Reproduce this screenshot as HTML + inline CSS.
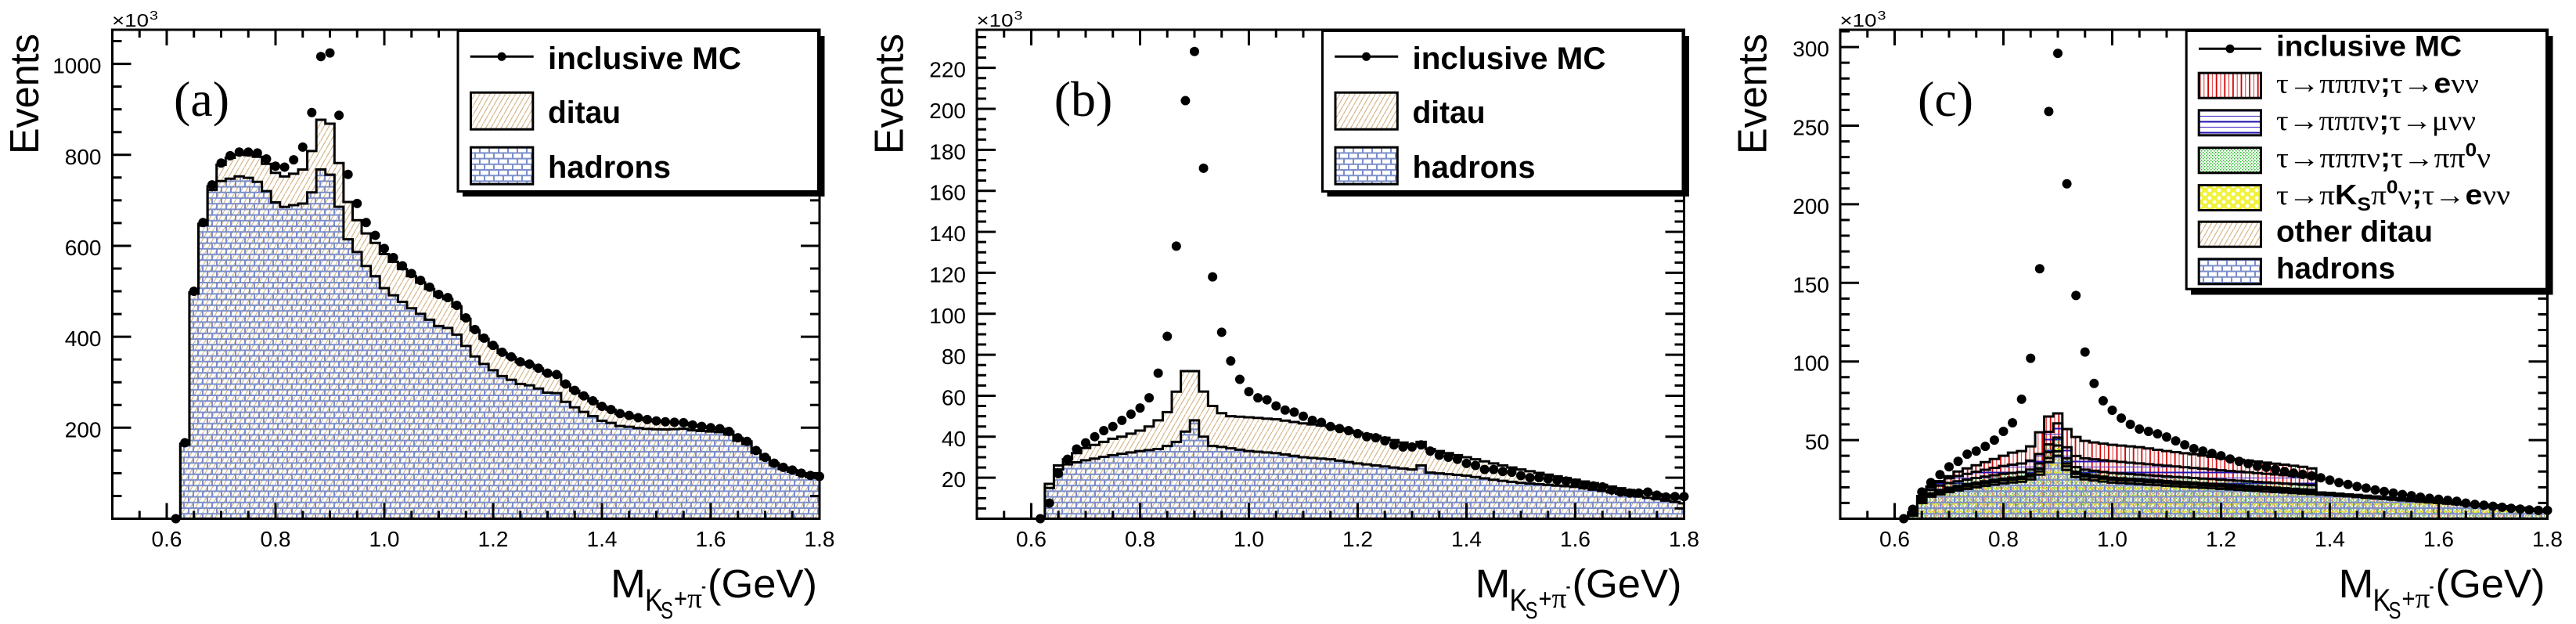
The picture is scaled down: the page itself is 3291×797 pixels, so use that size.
<!DOCTYPE html>
<html><head><meta charset="utf-8">
<style>
html,body{margin:0;padding:0;background:#fff;}
svg{display:block;}
text{font-family:"Liberation Sans",Arial,sans-serif;fill:#000;}
.tl{font-size:28px;}
.ser{font-family:"Liberation Serif","DejaVu Serif",serif;}
.b{font-weight:bold;}
</style></head><body>
<svg id="s" width="3291" height="797" viewBox="0 0 3291 797" xmlns="http://www.w3.org/2000/svg">
<defs>
<pattern id="hatch" patternUnits="userSpaceOnUse" width="6.5" height="11.26">
<path d="M-0.65,12.39 L7.15,-1.13" stroke="#d2b080" stroke-width="1.1" fill="none"/>
</pattern>
<pattern id="brick" patternUnits="userSpaceOnUse" width="24" height="14.4">
<path d="M0,1H24M0,8.2H24M1,1V8.2M13,1V8.2M7,8.2V14.4M19,8.2V14.4M7,0V1M19,0V1" stroke="#7b8ec9" stroke-width="2" fill="none"/>
</pattern>
<pattern id="red" patternUnits="userSpaceOnUse" width="10.6" height="10">
<path d="M1.5,0V10" stroke="#d40000" stroke-width="1.8"/><path d="M6.8,0V10" stroke="#e03030" stroke-width="1"/>
</pattern>
<pattern id="blu" patternUnits="userSpaceOnUse" width="10" height="14">
<path d="M0,1.5H10" stroke="#2010b0" stroke-width="2"/><path d="M0,8.5H10" stroke="#5a40d0" stroke-width="1.2"/>
</pattern>
<pattern id="grn" patternUnits="userSpaceOnUse" width="4" height="4">
<rect x="0" y="0" width="1.5" height="1.5" fill="#22bb22"/><rect x="2" y="2" width="1.5" height="1.5" fill="#22bb22"/>
</pattern>
<pattern id="yel" patternUnits="userSpaceOnUse" width="12" height="10">
<rect width="12" height="10" fill="#f2f23a"/><circle cx="3" cy="3" r="2.4" fill="#fff"/><circle cx="9" cy="8" r="2.4" fill="#fff"/>
</pattern>
<pattern id="yel2" patternUnits="userSpaceOnUse" width="12" height="10">
<path d="M0,5 q3,-4 6,0 q3,-4 6,0" stroke="#e8e820" stroke-width="1.5" fill="none"/>
</pattern>
<clipPath id="cA"><rect x="143.5" y="38" width="903.5" height="624.5"/></clipPath>
<clipPath id="cB"><rect x="1248" y="38" width="903.5" height="624.5"/></clipPath>
<clipPath id="cC"><rect x="2351" y="38" width="903.5" height="624.5"/></clipPath>
</defs>
<rect width="3291" height="797" fill="#fff"/>
<g id="gA" clip-path="url(#cA)"></g>
<g id="gB" clip-path="url(#cB)"></g>
<g id="gC" clip-path="url(#cC)"></g>
<g id="dots"></g>
<g id="ax"></g>

<g class="tl" text-anchor="end">
<text x="129.5" y="558.3">200</text><text x="129.5" y="442.1">400</text><text x="129.5" y="325.9">600</text><text x="129.5" y="209.8">800</text><text x="129.5" y="93.6">1000</text>
<text x="1234" y="622.2">20</text><text x="1234" y="569.8">40</text><text x="1234" y="517.5">60</text><text x="1234" y="465.1">80</text><text x="1234" y="412.8">100</text><text x="1234" y="360.4">120</text><text x="1234" y="308.1">140</text><text x="1234" y="255.7">160</text><text x="1234" y="203.4">180</text><text x="1234" y="151">200</text><text x="1234" y="98.7">220</text>
<text x="2337" y="574.1">50</text><text x="2337" y="473.7">100</text><text x="2337" y="373.3">150</text><text x="2337" y="272.9">200</text><text x="2337" y="172.5">250</text><text x="2337" y="72.1">300</text>
</g>
<g class="tl" text-anchor="middle">
<text x="213" y="698">0.6</text><text x="352" y="698">0.8</text><text x="491" y="698">1.0</text><text x="630" y="698">1.2</text><text x="769" y="698">1.4</text><text x="908" y="698">1.6</text><text x="1047" y="698">1.8</text>
<text x="1317.5" y="698">0.6</text><text x="1456.5" y="698">0.8</text><text x="1595.5" y="698">1.0</text><text x="1734.5" y="698">1.2</text><text x="1873.5" y="698">1.4</text><text x="2012.5" y="698">1.6</text><text x="2151.5" y="698">1.8</text>
<text x="2420.5" y="698">0.6</text><text x="2559.5" y="698">0.8</text><text x="2698.5" y="698">1.0</text><text x="2837.5" y="698">1.2</text><text x="2976.5" y="698">1.4</text><text x="3115.5" y="698">1.6</text><text x="3254.5" y="698">1.8</text>
</g>

<text x="143" y="34" font-size="23" textLength="47" lengthAdjust="spacingAndGlyphs">×10</text><text x="191" y="25" font-size="16" textLength="11" lengthAdjust="spacingAndGlyphs">3</text>
<text x="1247.5" y="34" font-size="23" textLength="47" lengthAdjust="spacingAndGlyphs">×10</text><text x="1295.5" y="25" font-size="16" textLength="11" lengthAdjust="spacingAndGlyphs">3</text>
<text x="2350.5" y="34" font-size="23" textLength="47" lengthAdjust="spacingAndGlyphs">×10</text><text x="2398.5" y="25" font-size="16" textLength="11" lengthAdjust="spacingAndGlyphs">3</text>

<text transform="translate(49,197) rotate(-90)" font-size="52" textLength="154" lengthAdjust="spacingAndGlyphs">Events</text>
<text transform="translate(1153.5,197) rotate(-90)" font-size="52" textLength="154" lengthAdjust="spacingAndGlyphs">Events</text>
<text transform="translate(2256.5,197) rotate(-90)" font-size="52" textLength="154" lengthAdjust="spacingAndGlyphs">Events</text>

<text class="ser" x="222" y="148" font-size="64">(a)</text>
<text class="ser" x="1346.7" y="148" font-size="64">(b)</text>
<text class="ser" x="2450" y="148" font-size="64">(c)</text>

<g>
<text x="780" y="763" font-size="51" textLength="45" lengthAdjust="spacingAndGlyphs">M</text>
<text x="824" y="780" font-size="40" textLength="23" lengthAdjust="spacingAndGlyphs">K</text>
<text x="844" y="790" font-size="31" textLength="16" lengthAdjust="spacingAndGlyphs">S</text>
<text x="861" y="776" font-size="34" textLength="17" lengthAdjust="spacingAndGlyphs">+</text>
<text class="ser" x="878" y="776" font-size="36" textLength="19" lengthAdjust="spacingAndGlyphs">π</text>
<text x="896" y="758" font-size="30" textLength="6" lengthAdjust="spacingAndGlyphs">-</text>
<text x="904" y="763" font-size="51" textLength="140" lengthAdjust="spacingAndGlyphs">(GeV)</text>
</g>
<g>
<text x="1884.5" y="763" font-size="51" textLength="45" lengthAdjust="spacingAndGlyphs">M</text>
<text x="1928.5" y="780" font-size="40" textLength="23" lengthAdjust="spacingAndGlyphs">K</text>
<text x="1948.5" y="790" font-size="31" textLength="16" lengthAdjust="spacingAndGlyphs">S</text>
<text x="1965.5" y="776" font-size="34" textLength="17" lengthAdjust="spacingAndGlyphs">+</text>
<text class="ser" x="1982.5" y="776" font-size="36" textLength="19" lengthAdjust="spacingAndGlyphs">π</text>
<text x="2000.5" y="758" font-size="30" textLength="6" lengthAdjust="spacingAndGlyphs">-</text>
<text x="2008.5" y="763" font-size="51" textLength="140" lengthAdjust="spacingAndGlyphs">(GeV)</text>
</g>
<g>
<text x="2987.5" y="763" font-size="51" textLength="45" lengthAdjust="spacingAndGlyphs">M</text>
<text x="3031.5" y="780" font-size="40" textLength="23" lengthAdjust="spacingAndGlyphs">K</text>
<text x="3051.5" y="790" font-size="31" textLength="16" lengthAdjust="spacingAndGlyphs">S</text>
<text x="3068.5" y="776" font-size="34" textLength="17" lengthAdjust="spacingAndGlyphs">+</text>
<text class="ser" x="3085.5" y="776" font-size="36" textLength="19" lengthAdjust="spacingAndGlyphs">π</text>
<text x="3103.5" y="758" font-size="30" textLength="6" lengthAdjust="spacingAndGlyphs">-</text>
<text x="3111.5" y="763" font-size="51" textLength="140" lengthAdjust="spacingAndGlyphs">(GeV)</text>
</g>

<g>
<rect x="591" y="46" width="462.5" height="205" fill="#000"/>
<rect x="585" y="39.5" width="460.5" height="205" fill="#fff" stroke="#000" stroke-width="3"/>
<path d="M600.7,72.3H681.7" stroke="#000" stroke-width="3"/><circle cx="641" cy="72.3" r="5.5" fill="#000"/>
<rect x="601.5" y="118.2" width="79.3" height="47" fill="url(#hatch)" stroke="#000" stroke-width="3"/>
<rect x="601.5" y="188.2" width="79.3" height="47" fill="url(#brick)" stroke="#000" stroke-width="3"/>
<text class="b" x="700" y="88" font-size="40" textLength="247" lengthAdjust="spacingAndGlyphs">inclusive MC</text>
<text class="b" x="700" y="157" font-size="40" textLength="93" lengthAdjust="spacingAndGlyphs">ditau</text>
<text class="b" x="700" y="227" font-size="40" textLength="157" lengthAdjust="spacingAndGlyphs">hadrons</text>
</g>
<g>
<rect x="1695.5" y="46" width="462.5" height="205" fill="#000"/>
<rect x="1689.5" y="39.5" width="460.5" height="205" fill="#fff" stroke="#000" stroke-width="3"/>
<path d="M1705.2,72.3H1786.2" stroke="#000" stroke-width="3"/><circle cx="1745.5" cy="72.3" r="5.5" fill="#000"/>
<rect x="1706" y="118.2" width="79.3" height="47" fill="url(#hatch)" stroke="#000" stroke-width="3"/>
<rect x="1706" y="188.2" width="79.3" height="47" fill="url(#brick)" stroke="#000" stroke-width="3"/>
<text class="b" x="1804.5" y="88" font-size="40" textLength="247" lengthAdjust="spacingAndGlyphs">inclusive MC</text>
<text class="b" x="1804.5" y="157" font-size="40" textLength="93" lengthAdjust="spacingAndGlyphs">ditau</text>
<text class="b" x="1804.5" y="227" font-size="40" textLength="157" lengthAdjust="spacingAndGlyphs">hadrons</text>
</g>
<g>
<rect x="2799" y="46" width="462.5" height="330.5" fill="#000"/>
<rect x="2793.2" y="39.5" width="460.3" height="329.7" fill="#fff" stroke="#000" stroke-width="3"/>
<path d="M2809,62.3H2889" stroke="#000" stroke-width="3"/><circle cx="2849" cy="62.3" r="5.5" fill="#000"/>
<rect x="2809.2" y="93.2" width="79.3" height="32" fill="url(#red)" stroke="#000" stroke-width="3"/>
<rect x="2809.2" y="140.8" width="79.3" height="32" fill="url(#blu)" stroke="#000" stroke-width="3"/>
<rect x="2809.2" y="188.8" width="79.3" height="32" fill="url(#grn)" stroke="#000" stroke-width="3"/>
<rect x="2809.2" y="236.5" width="79.3" height="32" fill="url(#yel)" stroke="#000" stroke-width="3"/>
<rect x="2809.2" y="283.2" width="79.3" height="32" fill="url(#hatch)" stroke="#000" stroke-width="3"/>
<rect x="2809.2" y="330.8" width="79.3" height="32" fill="url(#brick)" stroke="#000" stroke-width="3"/>
<text class="b" x="2908" y="71.7" font-size="37" textLength="237" lengthAdjust="spacingAndGlyphs">inclusive MC</text>
<text x="2908" y="118.5" font-size="36" textLength="259" lengthAdjust="spacingAndGlyphs"><tspan class="ser">τ→πππν</tspan><tspan class="b">;</tspan><tspan class="ser">τ→</tspan><tspan class="b">e</tspan><tspan class="ser">νν</tspan></text>
<text x="2908" y="166" font-size="36" textLength="255" lengthAdjust="spacingAndGlyphs"><tspan class="ser">τ→πππν</tspan><tspan class="b">;</tspan><tspan class="ser">τ→μνν</tspan></text>
<text x="2908" y="213.5" font-size="36" textLength="274" lengthAdjust="spacingAndGlyphs"><tspan class="ser">τ→πππν</tspan><tspan class="b">;</tspan><tspan class="ser">τ→ππ</tspan><tspan class="b" font-size="24" dy="-14">0</tspan><tspan class="ser" dy="14">ν</tspan></text>
<text x="2908" y="261" font-size="36" textLength="299" lengthAdjust="spacingAndGlyphs"><tspan class="ser">τ→π</tspan><tspan class="b">K</tspan><tspan class="b" font-size="24" dy="8">S</tspan><tspan class="ser" dy="-8">π</tspan><tspan class="b" font-size="24" dy="-14">0</tspan><tspan class="ser" dy="14">ν</tspan><tspan class="b">;</tspan><tspan class="ser">τ→</tspan><tspan class="b">e</tspan><tspan class="ser">νν</tspan></text>
<text class="b" x="2908" y="308.5" font-size="38" textLength="200" lengthAdjust="spacingAndGlyphs">other ditau</text>
<text class="b" x="2908" y="355.5" font-size="38" textLength="152" lengthAdjust="spacingAndGlyphs">hadrons</text>
</g>
</svg>

<script>
(function(){
const NS='http://www.w3.org/2000/svg';
function mk(tag,attrs,parent){const e=document.createElementNS(NS,tag);for(const k in attrs)e.setAttribute(k,attrs[k]);parent.appendChild(e);return e;}
const YB=662.5, YT=38;
const P=[{x0:143.5,x1:1047,ymax:1075,g:'gA'},{x0:1248,x1:2151.5,ymax:238.6,g:'gB'},{x0:2351,x1:3254.5,ymax:311,g:'gC'}];
function X(p,v){if(v>1.8)v=1.8;return p.x0+(v-0.5)/1.3*(p.x1-p.x0);}
function Y(p,val){return YB-val/p.ymax*(YB-YT);}
function cen(j){return 0.5+j/60;}
function interp(pts,v){
 if(v<=pts[0][0])return pts[0][1];
 if(v>=pts[pts.length-1][0])return pts[pts.length-1][1];
 for(let i=1;i<pts.length;i++){if(v<=pts[i][0]){const a=pts[i-1],b=pts[i];return a[1]+(b[1]-a[1])*(v-a[0])/(b[0]-a[0]);}}
 return pts[pts.length-1][1];
}
function dots(pairs,x0d){
 const s=[],c=[];
 for(const pr of pairs){let j=Math.round(((pr[0]-x0d)/993)*60);j=Math.max(7,Math.min(78,j));s[j]=(s[j]||0)+pr[1];c[j]=(c[j]||0)+1;}
 const D=[];
 for(let j=7;j<=78;j++)if(c[j])D[j]=s[j]/c[j];
 for(let j=7;j<=78;j++)if(D[j]===undefined){let a=j-1;while(a>=7&&D[a]===undefined)a--;let b=j+1;while(b<=78&&D[b]===undefined)b++;
  if(b>78)D[j]=D[a];else if(a<7)D[j]=D[b];else D[j]=D[a]+(D[b]-D[a])*(j-a)/(b-a);}
 return D;
}
function bins(f){const a=[];for(let j=0;j<=78;j++)a[j]=j<8?0:Math.max(0,f(cen(j),j));return a;}
function stepPts(p,a){const pts=[];for(let j=8;j<=78;j++){const xl=X(p,cen(j)-1/120),xr=X(p,cen(j)+1/120),y=Y(p,a[j]);pts.push([xl,y],[xr,y]);}return pts;}
function f2(q){return q[0].toFixed(2)+','+q[1].toFixed(2);}
function outlinePath(p,a){const t=stepPts(p,a);let d='M'+t[0][0].toFixed(2)+','+YB;for(const q of t)d+='L'+f2(q);d+='L'+t[t.length-1][0].toFixed(2)+','+YB;return d;}
function bandPath(p,top,bot){const t=stepPts(p,top);let d='M'+f2(t[0]);for(let i=1;i<t.length;i++)d+='L'+f2(t[i]);
 if(bot){const b=stepPts(p,bot);for(let i=b.length-1;i>=0;i--)d+='L'+f2(b[i]);}
 else{d+='L'+t[t.length-1][0].toFixed(2)+','+YB+'L'+t[0][0].toFixed(2)+','+YB;}
 return d+'Z';}
function fillp(p,d,pat,op){const g=document.getElementById(p.g);const a={d:d,fill:'url(#'+pat+')',stroke:'none'};if(op!==undefined)a.opacity=op;mk('path',a,g);}
function outline(p,a){const g=document.getElementById(p.g);mk('path',{d:outlinePath(p,a),fill:'none',stroke:'#000','stroke-width':3,'stroke-linejoin':'miter'},g);}
function drawDots(p,D){const g=document.getElementById('dots');for(let j=7;j<=78;j++){mk('circle',{cx:X(p,cen(j)).toFixed(2),cy:Y(p,D[j]).toFixed(2),r:6,fill:'#000'},g);}}

const pairsA=[[325,0],[340,167],[355,500],[373,651],[390,734],[405,782],[420,798],[437,806],[455,806],[470,804],[485,791],[500,775],[518,773],[535,789],[550,817],[567,893],[583,1016],[600,1024],[615,887],[630,757],[648,693],[663,651],[680,623],[695,594],[712,574],[727,556],[745,539],[762,524],[778,509],[795,493],[810,486],[827,469],[843,451],[858,432],[875,416],[890,397],[905,381],[920,366],[937,356],[953,345],[970,340],[985,331],[1002,320],[1017,317],[1035,296],[1050,282],[1067,270],[1082,259],[1098,247],[1115,240],[1130,231],[1148,227],[1163,222],[1180,218],[1195,215],[1212,213],[1228,212],[1245,211],[1260,206],[1278,203],[1293,200],[1310,198],[1325,192],[1342,178],[1358,170],[1375,150],[1390,135],[1407,122],[1422,113],[1440,107],[1455,100],[1472,95],[1488,93]];
const DA=dots(pairsA,205);
const sigA=v=>160*0.0009/((v-0.895)*(v-0.895)+0.0009);
const ditA=[[0.6333,2],[0.65,3],[0.6667,3],[0.6833,8],[0.7,36],[0.7167,46],[0.75,50],[0.8,65],[0.8333,69],[0.85,75],[0.8667,91],[0.8833,109],[0.9,112],[0.9167,96],[0.9333,82],[0.95,70],[1.0,75],[1.1,66],[1.2,53],[1.3,42],[1.4,31],[1.5,18],[1.6,8],[1.7,4],[1.8,3]];
const SA=bins((v,j)=>DA[j]-sigA(v));
const HA=bins((v,j)=>SA[j]-interp(ditA,v));
{const p=P[0];fillp(p,bandPath(p,SA,null),'hatch');fillp(p,bandPath(p,HA,null),'brick');outline(p,SA);outline(p,HA);drawDots(p,DA);}

const pairsB=[[330,0],[347,7.6],[363,22],[380,29],[397,34],[412,37],[428,40],[445,43],[462,45],[478,48],[493,51],[508,54],[525,59],[542,71],[555,89],[572,133],[588,204],[605,228],[622,171],[637,118],[653,91],[670,77],[687,68],[703,62],[718,59],[735,58],[750,55],[767,53],[783,52],[800,51],[815,49],[832,48],[848,47],[865,45],[880,44],[897,43],[912,41.5],[930,40],[945,39.5],[962,38],[978,36],[993,35],[1010,35],[1025,36],[1042,33],[1058,31],[1075,30],[1090,29],[1107,27],[1122,26],[1140,24],[1155,24],[1172,23],[1188,22.7],[1205,21],[1220,20],[1237,20],[1253,19.4],[1270,18.8],[1285,18.4],[1302,17.4],[1318,16.4],[1335,16],[1350,15.5],[1367,14],[1383,13],[1400,12.5],[1415,12.5],[1432,13],[1448,11.5],[1465,10.6],[1480,10.6],[1490,11]];
const DB=dots(pairsB,211.5);
const SBc=[[0.6333,17],[0.65,26],[0.6667,29],[0.6833,32],[0.7,34.5],[0.7167,36],[0.7333,37.5],[0.75,39],[0.7667,40],[0.7833,41.5],[0.8,43],[0.8167,45],[0.8333,48],[0.85,52],[0.8667,62],[0.8833,72],[0.9,72],[0.9167,62],[0.9333,55],[0.95,51.5],[0.9667,50],[1.0,49.5],[1.05,48.5],[1.1,46.5],[1.15,45],[1.2,42],[1.25,39.5],[1.3,36],[1.3167,37.5],[1.3333,34],[1.4,30],[1.45,27],[1.5,24],[1.55,21.5],[1.6,19],[1.65,16.5],[1.7,14],[1.75,12],[1.8,10]];
const HBc=[[0.6333,15],[0.65,24],[0.6667,26.5],[0.6833,27.5],[0.7,28.5],[0.75,31],[0.8,33],[0.8333,34],[0.85,35.5],[0.8667,37.5],[0.8833,42.5],[0.9,48],[0.9167,40],[0.9333,35.5],[0.95,35],[1.0,33],[1.05,32],[1.1,30],[1.15,29],[1.2,27],[1.25,25.5],[1.3,24],[1.3167,26],[1.3333,22.5],[1.4,21],[1.45,19],[1.5,17.5],[1.55,16.5],[1.6,15.5],[1.65,13.5],[1.7,11.5],[1.75,9.5],[1.8,7.5]];
const SB=bins(v=>interp(SBc,v));
const HB=bins(v=>interp(HBc,v));
{const p=P[1];fillp(p,bandPath(p,SB,null),'hatch');fillp(p,bandPath(p,HB,null),'brick');outline(p,SB);outline(p,HB);drawDots(p,DB);}

const pairsC=[[350,0],[367,6],[383,17],[400,23],[416,28],[432,33],[448,36.5],[463,41],[480,43],[495,46],[512,50],[528,55.5],[543,61],[560,76],[575,102],[592,159],[608,259],[625,296],[640,213],[656,142],[672,106],[690,86],[705,75],[720,69],[737,64],[753,60],[770,57],[787,55.5],[802,54],[818,52],[835,50],[850,49],[867,47],[883,44.6],[898,43],[915,41.5],[932,40],[948,38],[963,36.5],[980,35],[997,33.4],[1012,32.7],[1028,31.4],[1045,30],[1060,29],[1077,28.2],[1093,27.2],[1110,26],[1125,24.5],[1142,23],[1158,21.8],[1175,20.5],[1190,19.5],[1207,18.3],[1223,17.3],[1240,16.3],[1257,15.4],[1273,14.6],[1290,13.7],[1305,13],[1322,12.4],[1338,11.7],[1355,11.1],[1370,9.9],[1387,9.1],[1403,8.6],[1420,7.9],[1437,7.3],[1452,6.6],[1470,6.1],[1485,5.6],[1500,5.3]];
const DC=dots(pairsC,230);
const Tc=[[0.6333,3],[0.65,13],[0.6667,19],[0.6833,23],[0.7,27],[0.7167,30],[0.7333,32],[0.75,34],[0.7667,36],[0.7833,38],[0.8,40],[0.8167,42],[0.8333,43],[0.85,46],[0.8667,55],[0.8833,65],[0.9,67],[0.9167,57],[0.9333,52],[0.95,49.5],[0.9667,48.5],[1.0,47],[1.05,45.5],[1.1,43],[1.15,41],[1.2,38.5],[1.25,37],[1.3,35],[1.35,33],[1.3667,32]];
const Hc=[[0.6333,2],[0.65,10],[0.6667,14],[0.7,17],[0.75,20],[0.8,22.5],[0.8333,23.5],[0.85,25],[0.8667,28],[0.8833,36],[0.9,40],[0.9167,31],[0.9333,26.5],[0.95,25],[1.0,23],[1.1,21],[1.2,19],[1.3,17],[1.4,15],[1.5,12.5],[1.6,10],[1.7,7.5],[1.8,4.5]];
const Bc=[[0.6333,0.5],[0.7,3],[0.8,5],[0.8667,6],[0.8833,8],[0.9,9],[0.9167,7],[1.0,7.5],[1.2,6],[1.37,5]];
const pk=v=>Math.exp(-Math.pow((v-0.892)/0.018,2));
const ramp=v=>Math.min(1,Math.max(0,(v-0.625)/0.06));
const on=v=>v<1.37?1:0;
const HC=bins(v=>interp(Hc,v));
const C1=bins((v,j)=>HC[j]*1.06+0.4);
const C2=bins((v,j)=>C1[j]+on(v)*ramp(v)*(1.3+3*pk(v)));
const C3=bins((v,j)=>C2[j]+on(v)*ramp(v)*(3+2.5*pk(v)));
const C4=bins((v,j)=>C3[j]+on(v)*interp(Bc,v));
const TC=bins((v,j)=>on(v)?Math.max(interp(Tc,v),C4[j]+0.5):C4[j]);
{const p=P[2];
 fillp(p,bandPath(p,TC,C1),'red');
 fillp(p,bandPath(p,C1,null),'red',0.45);
 fillp(p,bandPath(p,C4,C1),'blu');
 fillp(p,bandPath(p,C3,null),'grn',0.75);
 fillp(p,bandPath(p,C2,null),'yel2');
 fillp(p,bandPath(p,C1,null),'hatch');
 fillp(p,bandPath(p,HC,null),'brick');
 outline(p,TC);outline(p,C4);outline(p,C3);outline(p,C2);outline(p,C1);outline(p,HC);
 drawDots(p,DC);}

function axes(p,minStep,majStep){
 const g=document.getElementById('ax');let d='';
 for(let i=1;;i++){const v=i*minStep;if(v>=p.ymax)break;const maj=(Math.abs(v/majStep-Math.round(v/majStep))<1e-6);const L=maj?24:12;const y=Y(p,v).toFixed(2);d+='M'+p.x0+','+y+'h'+L+'M'+p.x1+','+y+'h'+(-L);}
 for(let i=1;i<26;i++){const v=0.5+i*0.05;const L=(i%4===2)?20:10;const x=X(p,v).toFixed(2);d+='M'+x+','+YB+'v'+(-L)+'M'+x+','+YT+'v'+L;}
 mk('path',{d:d,stroke:'#000','stroke-width':3,fill:'none'},g);
 mk('rect',{x:p.x0,y:YT,width:(p.x1-p.x0),height:(YB-YT),fill:'none',stroke:'#000','stroke-width':3},g);
}
axes(P[0],50,200);axes(P[1],5,20);axes(P[2],10,50);
})();
</script>
</body></html>
